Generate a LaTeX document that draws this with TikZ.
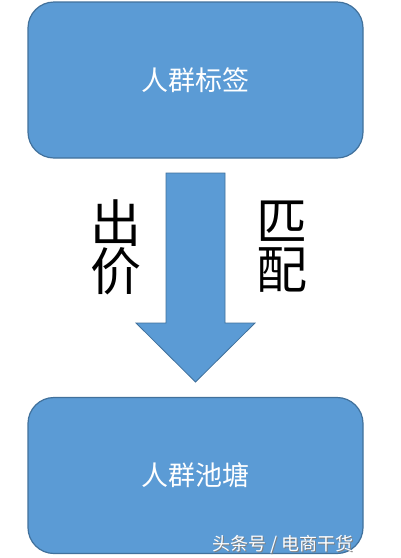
\documentclass[tikz,border=0pt]{standalone}
\usepackage{fontspec}
\newfontfamily\cjk{Noto Sans CJK SC}
\definecolor{boxfill}{HTML}{5B9BD5}
\definecolor{boxline}{HTML}{41719C}
\begin{document}
\begin{tikzpicture}[x=1pt,y=-1pt,
  flowbox/.style={draw=boxline,line width=1.2pt,fill=boxfill,rounded corners=26pt,
    minimum width=335pt,minimum height=156pt,inner sep=0pt,text=white,
    font=\cjk\fontsize{27}{30}\selectfont},
  biglabel/.style={inner sep=0pt,font=\cjk\fontsize{51}{54}\selectfont,align=center},
  wmark/.style={inner sep=0pt,font=\cjk\fontsize{18}{20}\selectfont,anchor=north west}]
\useasboundingbox (0,0) rectangle (400,558);
\fill[white] (0,0) rectangle (400,558);
\node[flowbox] (top) at (195.5,80) {人群标签};
\node[flowbox] (bot) at (195.5,475.5) {人群池塘};
\coordinate (tip) at (195.5,382);
\draw[boxline,line width=0.8pt,fill=boxfill]
  (166,173) -- (225,173) -- (225,323) -- (255,323) -- (tip) -- (136,323) -- (166,323) -- cycle;
\node[biglabel] (bid) at (116,247) {出\\[-6pt]价};
\node[biglabel] (match) at (282,247) {匹\\[-6pt]配};
\node[wmark,text=gray] (wm2) at (213,536) {头条号 / 电商干货};
\node[wmark,text=white] (wm) at (212,535) {头条号 / 电商干货};
\end{tikzpicture}
\end{document}
